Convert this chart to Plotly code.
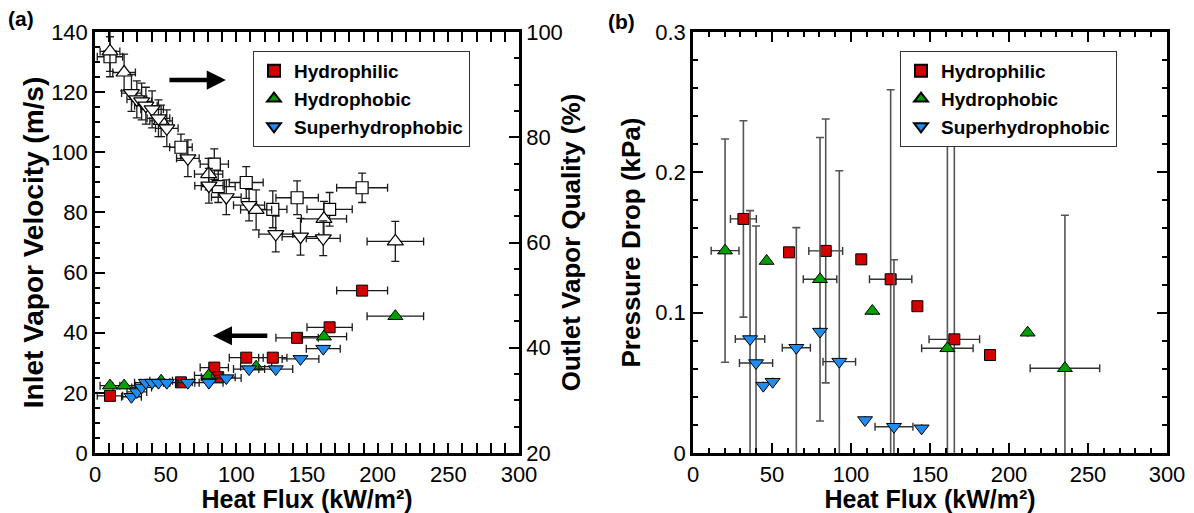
import plotly.graph_objects as go

# ---------------- Panel (a): inlet vapor velocity (filled) & outlet quality (open) ----------------
phil_x = [10.6, 60.8, 84.4, 87.2, 107.0, 125.8, 143.0, 166.0, 189.0]
phil_ex = [9, 8, 10, 12, 12, 10, 15, 16, 18]
phil_vel = [19.0, 23.5, 28.4, 25.2, 31.7, 31.7, 38.3, 41.8, 54.0]
phil_q = [95.3, 78.1, 74.9, 70.6, 71.4, 66.3, 68.5, 66.3, 70.4]
phil_eq = [3.8, 2.5, 2.9, 3.0, 3.0, 3.5, 3.2, 3.2, 2.8]

phob_x = [10.6, 20.6, 46.8, 80.4, 114.0, 162.0, 212.5]
phob_ex = [7, 8, 8, 10, 11, 16, 20]
phob_vel = [22.4, 22.4, 24.0, 25.8, 28.7, 38.7, 45.5]
phob_q = [96.3, 92.3, 83.1, 73.0, 66.2, 64.5, 60.2]
phob_eq = [3.8, 3.5, 3.0, 3.0, 3.8, 3.3, 3.8]

sphob_x = [25.8, 29.6, 33.0, 36.0, 40.4, 44.9, 50.8, 65.7, 80.6, 92.9, 109.0, 127.9, 145.4, 161.5]
sphob_ex = [7, 7, 7, 8, 8, 8, 8, 8, 10, 10.5, 11, 12, 13, 12]
sphob_vel = [18.7, 20.3, 21.8, 23.4, 23.4, 23.4, 23.4, 23.4, 23.4, 24.9, 27.9, 27.9, 31.3, 34.7]
sphob_q = [88.4, 87.2, 86.8, 86.0, 85.3, 83.6, 81.7, 76.0, 70.8, 68.6, 67.1, 61.6, 61.1, 60.8]
sphob_eq = [3.5, 3.5, 3.5, 3.5, 3.5, 3.5, 3.5, 3.5, 3.3, 3.3, 3.0, 3.4, 3.5, 3.3]

# ---------------- Panel (b): pressure drop ----------------
b_phil_x = [31.9, 60.8, 84.0, 106.5, 125.1, 142.0, 165.4, 188.0]
b_phil_dp = [0.1668, 0.143, 0.144, 0.138, 0.1238, 0.1046, 0.081, 0.0698]
b_phil_ex = [8.2, None, 10.7, None, 13.4, None, 16.0, None]
b_phil_ey = [0.070, None, 0.094, None, 0.135, None, 0.1415, None]

b_phob_x = [20.3, 46.6, 80.4, 113.5, 161.0, 211.8, 235.4]
b_phob_dp = [0.1442, 0.1368, 0.1238, 0.1012, 0.0746, 0.0857, 0.0604]
b_phob_ex = [8.8, None, 10.6, None, 16.3, None, 22.0]
b_phob_ey = [0.0795, None, 0.101, None, 0.146, None, 0.109]

b_sphob_x = [36.1, 39.9, 44.5, 50.4, 65.4, 80.4, 92.6, 108.9, 127.2, 144.7]
b_sphob_dp = [0.0812, 0.0641, 0.048, 0.0508, 0.075, 0.0865, 0.0651, 0.0235, 0.0187, 0.0176]
b_sphob_ex = [9.3, 10.5, None, None, 8.9, None, 10.3, None, 12.0, None]
b_sphob_ey = [0.0915, 0.0977, None, None, 0.0856, None, 0.136, None, 0.119, None]

series_names = ["Hydrophilic", "Hydrophobic", "Superhydrophobic"]

W, H = 1194, 513
ML, MR, MT, MB = 95, 27, 32, 60
PW, PH = W - ML - MR, H - MT - MB
FONT = "Arial, Liberation Sans, sans-serif"
RED, GREEN, BLUE = "#d40000", "#00a000", "#1e8cf0"


def px(p):
    return (p - ML) / PW


def py(p):
    return (H - MB - p) / PH


def err(arr, color="#1a1a1a", thick=1.3, w=4):
    return dict(type="data", array=arr, visible=True, color=color, thickness=thick, width=w)


fig = go.Figure()

# open markers (outlet vapor quality, right axis)
for xs, ex, q, eq, sym in [
    (phil_x, phil_ex, phil_q, phil_eq, "square"),
    (phob_x, phob_ex, phob_q, phob_eq, "triangle-up"),
    (sphob_x, sphob_ex, sphob_q, sphob_eq, "triangle-down"),
]:
    fig.add_trace(go.Scatter(
        x=xs, y=q, mode="markers", xaxis="x", yaxis="y2", showlegend=False,
        marker=dict(symbol=sym, size=12 if sym == "square" else 14, color="white",
                    line=dict(color="black", width=1.2)),
        error_x=err(ex), error_y=err(eq),
    ))

# filled markers (inlet vapor velocity, left axis)
for name, xs, ex, v, sym, col in [
    (series_names[0], phil_x, phil_ex, phil_vel, "square", RED),
    (series_names[1], phob_x, phob_ex, phob_vel, "triangle-up", GREEN),
    (series_names[2], sphob_x, sphob_ex, sphob_vel, "triangle-down", BLUE),
]:
    fig.add_trace(go.Scatter(
        x=xs, y=v, mode="markers", name=name, xaxis="x", yaxis="y", legend="legend",
        marker=dict(symbol=sym, size=11 if sym == "square" else 13, color=col,
                    line=dict(color="black", width=1)),
        error_x=err(ex),
    ))

# panel (b)
for name, xs, ys, ex, ey, sym, col in [
    (series_names[0], b_phil_x, b_phil_dp, b_phil_ex, b_phil_ey, "square", RED),
    (series_names[1], b_phob_x, b_phob_dp, b_phob_ex, b_phob_ey, "triangle-up", GREEN),
    (series_names[2], b_sphob_x, b_sphob_dp, b_sphob_ex, b_sphob_ey, "triangle-down", BLUE),
]:
    fig.add_trace(go.Scatter(
        x=xs, y=ys, mode="markers", name=name, xaxis="x2", yaxis="y3", legend="legend2",
        marker=dict(symbol=sym, size=11 if sym == "square" else 13, color=col,
                    line=dict(color="black", width=1)),
        error_x=err(ex, "#333333", 1.4), error_y=err(ey, "#555555", 1.6),
    ))

tickfont = dict(family=FONT, size=22, color="black")
titlefont = dict(family=FONT, size=26, color="black", weight="bold")
xtitlefont = dict(family=FONT, size=25, color="black", weight="bold")
common = dict(showline=True, linecolor="black", linewidth=2.5, ticks="inside",
              tickcolor="black", tickwidth=2, ticklen=10, showgrid=False, zeroline=False,
              tickfont=tickfont, automargin=False)
minor_style = dict(ticks="inside", ticklen=5, tickcolor="black", tickwidth=1.5)

dom_a = [px(95), px(519)]
dom_b = [px(693), px(1167)]
dom_y = [0, 1]

legend_style = dict(yanchor="top", xanchor="left", bgcolor="white", bordercolor="#333333",
                    borderwidth=1,
                    font=dict(family=FONT, size=19, color="black", weight="bold"),
                    itemsizing="constant")

XTITLE = "Heat Flux (kW/m\u00b2)"

fig.update_layout(
    width=W, height=H, template="none",
    paper_bgcolor="white", plot_bgcolor="white",
    margin=dict(l=ML, r=MR, t=MT, b=MB, autoexpand=False),
    xaxis=dict(domain=dom_a, anchor="y", range=[0, 300], dtick=50, mirror="allticks",
               minor=dict(dtick=10, **minor_style),
               title=dict(text=XTITLE, font=xtitlefont, standoff=4),
               **common),
    yaxis=dict(domain=dom_y, anchor="x", range=[0, 140], dtick=20,
               minor=dict(dtick=5, **minor_style),
               title=dict(text="Inlet Vapor Velocity (m/s)", font=dict(titlefont, size=28), standoff=0),
               **common),
    yaxis2=dict(domain=dom_y, anchor="x", overlaying="y", side="right", range=[20, 100], dtick=20,
                minor=dict(dtick=5, **minor_style),
                title=dict(text="Outlet Vapor Quality (%)", font=titlefont, standoff=0),
                **common),
    xaxis2=dict(domain=dom_b, anchor="y3", range=[0, 300], dtick=50, mirror="allticks",
                minor=dict(dtick=10, **minor_style),
                title=dict(text=XTITLE, font=xtitlefont, standoff=4),
                **common),
    yaxis3=dict(domain=dom_y, anchor="x2", range=[0, 0.3], dtick=0.1, mirror="allticks",
                minor=dict(dtick=0.02, **minor_style),
                title=dict(text="Pressure Drop (kPa)", font=titlefont, standoff=8),
                **common),
    legend=dict(x=px(253), y=py(51), **legend_style),
    legend2=dict(x=px(900), y=py(51), **legend_style),
    annotations=[
        dict(text="(a)", x=px(6), y=py(5), xref="paper", yref="paper", xanchor="left", yanchor="top",
             showarrow=False, font=dict(family=FONT, size=21, color="black", weight="bold")),
        dict(text="(b)", x=px(606), y=py(8), xref="paper", yref="paper", xanchor="left", yanchor="top",
             showarrow=False, font=dict(family=FONT, size=21, color="black", weight="bold")),
        dict(text="", x=92.6, y=124, ax=51.6, ay=124, xref="x", yref="y", axref="x", ayref="y",
             showarrow=True, arrowhead=2, arrowsize=0.85, arrowwidth=4.5, arrowcolor="black"),
        dict(text="", x=83.4, y=39, ax=123, ay=39, xref="x", yref="y", axref="x", ayref="y",
             showarrow=True, arrowhead=2, arrowsize=0.85, arrowwidth=4.5, arrowcolor="black"),
    ],
)

fig.write_html("out.html", config={"displayModeBar": False},
               post_script="document.body.style.margin='0';document.body.style.overflow='hidden';")
